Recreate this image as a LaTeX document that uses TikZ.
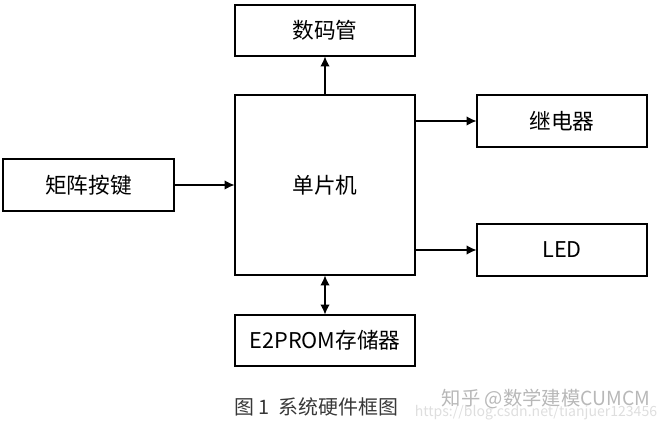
\documentclass[tikz,border=0pt]{standalone}
\usepackage{fontspec}
\usepackage{tikz}
\usetikzlibrary{arrows.meta}
\setmainfont{Noto Sans CJK SC}
\newfontfamily\cjk{Noto Sans CJK SC}

\tikzset{
 blk/.style={draw,rectangle,line width=0.9pt,inner sep=0pt,font=\cjk\fontsize{18.5}{22}\selectfont},
 wm/.style={font=\cjk\fontsize{16.5}{19}\selectfont}
}

\begin{document}
\begin{tikzpicture}[x=0.03cm,y=-0.03cm,line width=0.9pt,>={Latex[length=8.5pt,width=8pt]}]
 \useasboundingbox (0,0) rectangle (669,429);

 \node[blk,minimum width=5.4cm,minimum height=5.4cm] (m) at (325,185) {单片机};%\filldraw(m.north) circle (1pt)
 \node[blk,minimum width=5.4cm,minimum height=1.53cm] (s) at (325,30.5) {数码管};
 \node[blk,minimum width=5.4cm,minimum height=1.53cm] (e) at (325,340.5) {E2PROM存储器};
 \node[blk,minimum width=5.13cm,minimum height=1.56cm] (k) at (88.5,185) {矩阵按键};
 \node[blk,minimum width=5.1cm,minimum height=1.56cm] (r) at (562,121) {继电器};
 \node[blk,minimum width=5.1cm,minimum height=1.56cm] (l) at (562,250) {LED};

 \draw[->] (k.east) to (m.west);
 \draw[->] (m.north) to (s.south);
 \draw[<->] (m.south) to (e.north);
 \draw[->] (m.east |- r.west) to (r.west);
 \draw[->] (m.east |- l.west) to (l.west);

 \node[font=\cjk\fontsize{17}{20}\selectfont,text=black!78] (cap) at (316,407) {图 1\ \ 系统硬件框图};
 \node[font=\cjk\fontsize{12}{14}\selectfont,text=black!13] (url) at (536,413) {https://blog.csdn.net/tianjuer123456};
 \node[wm,text=black!28] (zh) at (546,399) {知乎 @数学建模CUMCM};
\end{tikzpicture}
\end{document}
